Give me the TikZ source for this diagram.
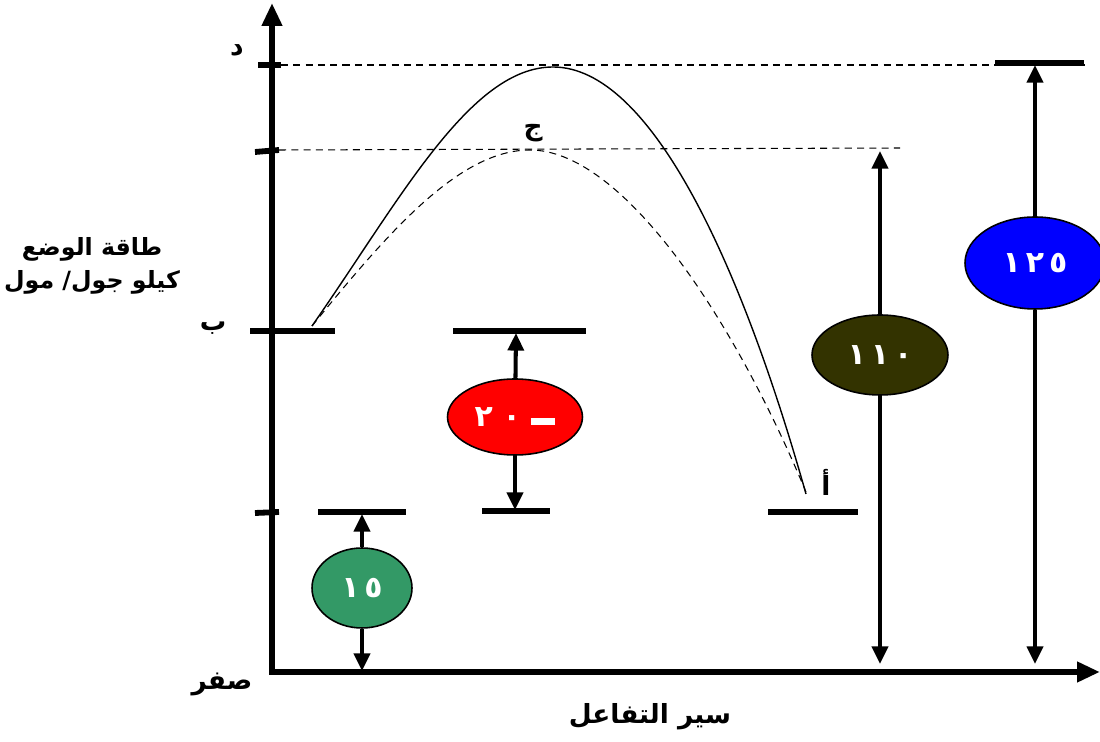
\documentclass[tikz,border=0pt]{standalone}
\usepackage{fontspec}
\usetikzlibrary{shapes.geometric,arrows.meta}
\newfontfamily\arabicfont[Script=Arabic]{DejaVu Sans}
\TeXXeTstate=1
\definecolor{egreen}{HTML}{339966}
\definecolor{ered}{HTML}{FF0000}
\definecolor{eolive}{HTML}{333300}
\definecolor{eblue}{HTML}{0000FF}
\tikzset{
  axis/.style={line width=3.3pt,-{Triangle[length=13pt,width=11pt]}},
  level/.style={line width=3.3pt},
  tick/.style={line width=3.3pt},
  guide/.style={line width=0.6pt,dash pattern=on 4pt off 3pt},
  dbl/.style={line width=2.3pt,-{Triangle[length=10pt,width=9pt]}},
  bubble/.style={ellipse,draw=black,line width=0.9pt,inner sep=0pt,text=white,
    font=\arabicfont\bfseries\fontsize{17}{19}\selectfont},
  lbl/.style={font=\arabicfont\bfseries\fontsize{15}{19}\selectfont,inner sep=0pt},
}
\begin{document}
\begin{tikzpicture}[x=0.02cm,y=-0.02cm]
\useasboundingbox (0,0) rectangle (1100,742);
% axes
\coordinate (ytop) at (272,3);
\coordinate (xend) at (1100,672);
\draw[axis] (272,675) -- (ytop);
\draw[axis] (270,672) -- (xend);
% ticks
\draw[tick] (258,65) -- (281,65);
\draw[tick] (255,152) -- (279,150);
\draw[tick] (255,513) -- (279,512);
% guides
\draw[guide] (281,65) -- (1085,65);
\draw[guide] (279,150) -- (900,148);
% levels
\draw[level] (250,331) -- (335,331);
\draw[level] (453,331) -- (586,331);
\draw[level] (318,512) -- (406,512);
\draw[level] (482,511) -- (550,511);
\draw[level] (768,512) -- (858,512);
\draw[level] (995,63) -- (1084,63);
% curves
\draw[line width=0.8pt] (312,326) .. controls (400,200) and (470,67) .. (553,67)
  .. controls (650,67) and (740,260) .. (806,494);
\draw[guide] (312,326) .. controls (390,230) and (460,150) .. (530,150)
  .. controls (620,150) and (730,310) .. (806,492);
% letter labels
\node[lbl] (ld) at (237,50) {د};
\node[lbl] (lj) at (533,133) {ج};
\node[lbl] (lb) at (213,328) {ب};
\node[lbl] (la) at (826,482) {أ};
\node[lbl] (l0) at (222,684) {\beginR صفر\endR};
\node[lbl,align=center,font=\arabicfont\bfseries\fontsize{13.5}{18}\selectfont] (ylab) at (92,266) {\beginR طاقة الوضع\endR\\[1pt]\beginR كيلو جول/ مول\endR};
\node[lbl] (xlab) at (650,717) {\beginR سير التفاعل\endR};
% bubbles
\node[bubble,fill=egreen,minimum width=2cm,minimum height=1.6cm] (e1) at (362,588) {١\,٥};
\node[bubble,fill=ered,minimum width=2.7cm,minimum height=1.52cm] (e2) at (515,417) {٢\,\,٠\,\,\rule[1pt]{14pt}{4pt}};
\node[bubble,fill=eolive,minimum width=2.72cm,minimum height=1.6cm] (e3) at (880,355) {١\,١\,٠};
\node[bubble,fill=eblue,minimum width=2.8cm,minimum height=1.84cm] (e4) at (1035,263) {١\,٢\,٥};
% arrow targets
\coordinate (t1) at (362,514);
\coordinate (b1) at (362,671);
\coordinate (t2) at (516,333);
\coordinate (b2) at (515,510);
\coordinate (t3) at (880,151);
\coordinate (b3) at (880,664);
\coordinate (t4) at (1035,65);
\coordinate (b4) at (1035,664);
\draw[dbl] (e1) -- (t1);
\draw[dbl] (e1) -- (b1);
\draw[dbl] (e2) -- (t2);
\draw[dbl] (e2) -- (b2);
\draw[dbl] (e3) -- (t3);
\draw[dbl] (e3) -- (b3);
\draw[dbl] (e4) -- (t4);
\draw[dbl] (e4) -- (b4);
\end{tikzpicture}
\end{document}
